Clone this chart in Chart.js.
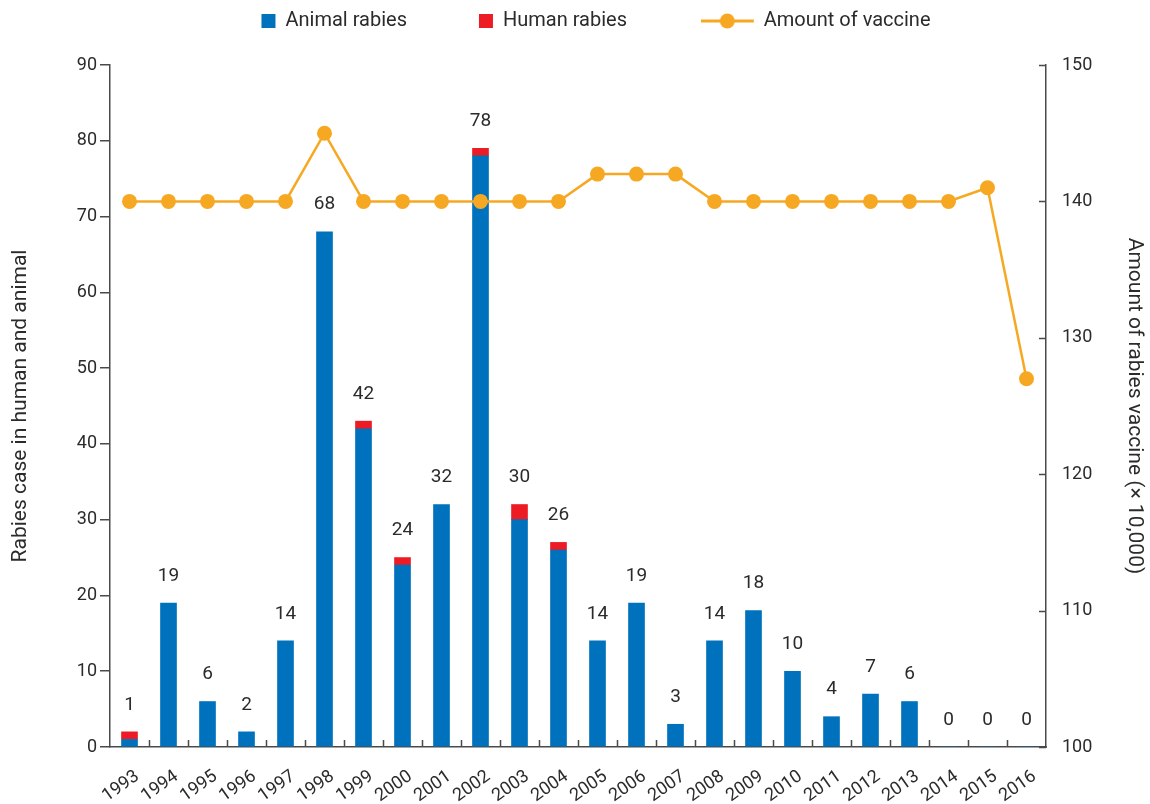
<!DOCTYPE html>
<html>
<head>
<meta charset="utf-8">
<script src="https://cdn.jsdelivr.net/npm/chart.js@4"></script>
<style>
  html, body { margin: 0; padding: 0; background: #fff; }
  #wrap { width: 1150px; height: 804px; }
</style>
</head>
<body>
<div id="wrap"><canvas id="rabiesChart"></canvas></div>
<script>
const years = ['1993', '1994', '1995', '1996', '1997', '1998', '1999', '2000', '2001', '2002', '2003', '2004',
  '2005', '2006', '2007', '2008', '2009', '2010', '2011', '2012', '2013', '2014', '2015', '2016'];
const animalCases = [1, 19, 6, 2, 14, 68, 42, 24, 32, 78, 30, 26, 14, 19, 3, 14, 18, 10, 4, 7, 6, 0, 0, 0];
const humanCases = [1, 0, 0, 0, 0, 0, 1, 1, 0, 1, 2, 1, 0, 0, 0, 0, 0, 0, 0, 0, 0, 0, 0, 0];
const vaccineAmount = [140, 140, 140, 140, 140, 145, 140, 140, 140, 140, 140, 140, 142, 142, 142, 140, 140, 140, 140, 140, 140, 140, 141, 127];

const BLUE = '#0071bc';
const RED = '#ed1c24';
const ORANGE = '#f7a823';
const TEXT = '#2b2b2b';
const AXIS = '#4a4a4a';
const FONT = 'Roboto, "Liberation Sans", sans-serif';

// legend icon for the line series: line with a dot, drawn left of the box so text stays put
function lineIcon() {
  const c = document.createElement('canvas');
  c.width = 92;
  c.height = 18;
  const g = c.getContext('2d');
  g.strokeStyle = ORANGE;
  g.lineWidth = 3;
  g.beginPath();
  g.moveTo(0, 9);
  g.lineTo(53, 9);
  g.stroke();
  g.fillStyle = ORANGE;
  g.beginPath();
  g.arc(26.5, 9, 7.5, 0, Math.PI * 2);
  g.fill();
  return c;
}
const vaccineIcon = lineIcon();

// fixed legend height, and nudge the legend row to where the original has it
const legendTweak = {
  id: 'legendTweak',
  beforeInit(chart) {
    const legend = chart.legend;
    const fit = legend.fit;
    legend.fit = function () {
      fit.call(this);
      this.height = 65;
    };
    legend.draw = function () {
      const c = this.ctx;
      c.save();
      c.translate(18, -61);
      this._draw();
      c.restore();
    };
  }
};

// value labels above each stack + inward tick marks on x and right y axes
const extrasPlugin = {
  id: 'extras',
  afterDatasetsDraw(chart) {
    const ctx = chart.ctx;
    const animalMeta = chart.getDatasetMeta(0);
    const humanMeta = chart.getDatasetMeta(1);
    ctx.save();
    ctx.font = '19px ' + FONT;
    ctx.fillStyle = TEXT;
    ctx.textAlign = 'center';
    ctx.textBaseline = 'middle';
    animalMeta.data.forEach((bar, i) => {
      const topY = humanCases[i] > 0 ? humanMeta.data[i].y : bar.y;
      ctx.fillText(String(animalCases[i]), bar.x, topY - 27);
    });

    const x = chart.scales.x;
    const yr = chart.scales.y1;
    ctx.strokeStyle = AXIS;
    ctx.lineWidth = 1.5;
    ctx.beginPath();
    for (let i = 1; i < years.length; i++) {
      const px = Math.round((x.getPixelForValue(i - 1) + x.getPixelForValue(i)) / 2) + 0.5;
      ctx.moveTo(px, x.top);
      ctx.lineTo(px, x.top - 7);
    }
    yr.ticks.forEach(t => {
      const py = Math.round(yr.getPixelForValue(t.value)) + 0.5;
      ctx.moveTo(yr.left, py);
      ctx.lineTo(yr.left - 7, py);
    });
    ctx.stroke();
    ctx.restore();
  }
};

const ctx = document.getElementById('rabiesChart').getContext('2d');

new Chart(ctx, {
  data: {
    labels: years,
    datasets: [
      {
        type: 'bar',
        label: 'Animal rabies',
        data: animalCases,
        backgroundColor: BLUE,
        stack: 'cases',
        yAxisID: 'y',
        barThickness: 16,
        order: 1
      },
      {
        type: 'bar',
        label: 'Human rabies',
        data: humanCases.map(v => v || null),
        backgroundColor: RED,
        stack: 'cases',
        yAxisID: 'y',
        barThickness: 16,
        order: 1
      },
      {
        type: 'line',
        label: 'Amount of vaccine',
        data: vaccineAmount,
        borderColor: ORANGE,
        backgroundColor: ORANGE,
        borderWidth: 2.5,
        pointRadius: 7.5,
        pointBorderWidth: 0,
        pointBackgroundColor: ORANGE,
        tension: 0,
        yAxisID: 'y1',
        order: 0
      }
    ]
  },
  options: {
    responsive: true,
    maintainAspectRatio: false,
    animation: false,
    layout: { padding: { left: 6, right: 0, top: 0, bottom: 0 } },
    plugins: {
      legend: {
        position: 'top',
        labels: {
          usePointStyle: true,
          pointStyleWidth: 14,
          boxHeight: 14,
          padding: 72,
          color: TEXT,
          font: { family: FONT, size: 20 },
          sort: (a, b) => a.datasetIndex - b.datasetIndex,
          generateLabels(chart) {
            const items = Chart.defaults.plugins.legend.labels.generateLabels(chart);
            items.forEach(it => {
              it.lineWidth = 0;
              it.strokeStyle = 'rgba(0,0,0,0)';
              if (it.datasetIndex === 2) {
                it.pointStyle = vaccineIcon;
              } else {
                it.pointStyle = 'rect';
              }
              if (it.datasetIndex === 1) {
                it.text = it.text + '\u2003\u2003';
              }
            });
            return items;
          }
        }
      },
      tooltip: { enabled: false }
    },
    scales: {
      x: {
        offset: true,
        grid: { display: false, drawTicks: false },
        border: { display: true, color: AXIS, width: 1.5 },
        ticks: {
          color: TEXT,
          font: { family: FONT, size: 18 },
          minRotation: 35,
          maxRotation: 35,
          padding: 19,
          labelOffset: 8,
          autoSkip: false
        },
        afterFit(scale) { scale.height = 57; }
      },
      y: {
        position: 'left',
        min: 0,
        max: 90,
        ticks: { stepSize: 10, color: TEXT, font: { family: FONT, size: 18 }, padding: 3 },
        grid: { drawOnChartArea: false, drawTicks: true, tickLength: 10, color: AXIS, lineWidth: 1.5 },
        border: { display: true, color: AXIS, width: 1.5 },
        title: {
          display: true,
          text: 'Rabies case in human and animal',
          color: TEXT,
          font: { family: FONT, size: 21 },
          padding: { top: 2, bottom: 0 }
        },
        afterFit(scale) { scale.width = 104; }
      },
      y1: {
        position: 'right',
        min: 100,
        max: 150,
        ticks: { stepSize: 10, color: TEXT, font: { family: FONT, size: 18 }, padding: 16 },
        grid: { drawOnChartArea: false, drawTicks: false },
        border: { display: true, color: AXIS, width: 1.5 },
        title: {
          display: true,
          text: 'Amount of rabies vaccine (\u00d7 10,000)',
          color: TEXT,
          font: { family: FONT, size: 21 },
          padding: { top: 3, bottom: 0 }
        },
        afterFit(scale) { scale.width = 104; }
      }
    }
  },
  plugins: [legendTweak, extrasPlugin]
});
</script>
</body>
</html>
